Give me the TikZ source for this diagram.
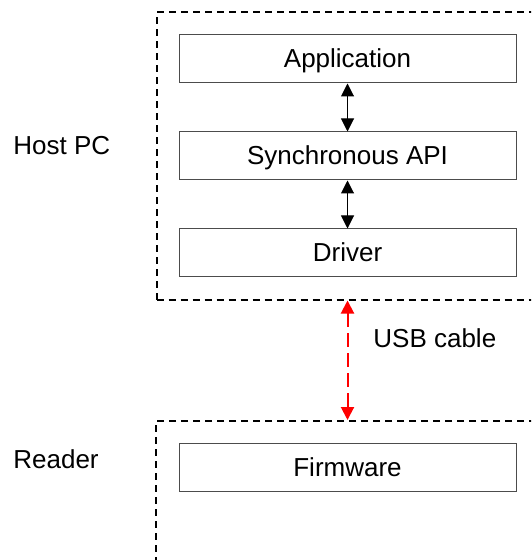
\documentclass[tikz,border=0pt]{standalone}
\usepackage{fontspec}
\setmainfont{Liberation Sans}
\usepackage{tikz}
\usetikzlibrary{
	arrows.meta,
	positioning,
	fit
}

\begin{document}
\begin{tikzpicture}[
				x=0.5pt, y=-0.5pt,
				font=\fontsize{13}{15.6}\selectfont,
				layerbox/.style={
					rectangle, draw=black!70, line width=0.5pt,
					minimum width=168.5pt, minimum height=24pt,
					text height=0.9em, text depth=0pt,
					inner sep=0pt, align=center, fill=white
				},
				frame/.style={
					rectangle, draw, line width=1pt,
					dash pattern=on 3.5pt off 2.5pt, inner sep=0pt
				},
				label/.style={
					inner sep=0pt, anchor=base west
				},
				arrow/.style={
					{Triangle[length=6.5pt,width=6.5pt]}-{Triangle[length=6.5pt,width=6.5pt]},
					line width=0.5pt
				},
				usbarrow/.style={
					arrow, red, line width=1pt,
					dash pattern=on 7pt off 3pt
				},
				]
				\clip (0,0) rectangle (531,560);
				
				%host side
				\node[layerbox] (app) at (347.5,59) {Application};
				\node[layerbox, below=24pt of app] (syncapi) {Synchronous API};
				\node[layerbox, below=24pt of syncapi] (driver) {Driver};
				\draw [arrow] (app) -- (syncapi);
				\draw [arrow] (syncapi) -- (driver);
				
				\node[frame, fit=(app)(driver), inner sep=11pt] (host) {};
				\node[label] (hostlbl) at (13,155) {Host PC};
				
				%reader side
				\node[frame, minimum width=191.5pt, minimum height=143pt, anchor=north] (reader) at (347.5,420) {};
				\node[layerbox, below=11.5pt of reader.north] (firmware) {Firmware};
				\node[label] (readerlbl) at (13,468) {Reader};
				
				%cable
				\draw [usbarrow] (host.south) -- (reader.north);
				\node[label] (usblbl) at (373,347) {USB cable};
			\end{tikzpicture}
\end{document}
